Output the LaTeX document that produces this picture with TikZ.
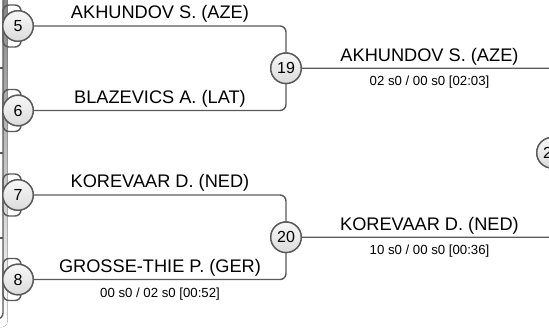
\documentclass[tikz,border=0pt]{standalone}
\usepackage{fontspec}
\setmainfont{Liberation Sans}
\usepackage{xcolor}
\usepackage{tikz}
\definecolor{wire}{HTML}{5A5A5A}
\definecolor{shade}{HTML}{E6E6E6}
\tikzset{
  seed/.style={circle, draw=wire, line width=1.4pt, top color=gray!6,
               bottom color=gray!28, minimum size=30.5pt, inner sep=0pt,
               font=\fontsize{16}{18}\selectfont},
  link/.style={draw=wire, line width=1.4pt, rounded corners=6pt},
  tab/.style={draw=wire, line width=1.4pt, rounded corners=6pt},
  plabel/.style={anchor=base, inner sep=0pt, font=\fontsize{18.2}{20}\selectfont},
  score/.style={anchor=base, inner sep=0pt, font=\fontsize{13.2}{15}\selectfont},
}

\begin{document}
\begin{tikzpicture}[x=1pt, y=-1pt]
    \useasboundingbox (0,0) rectangle (549,329);
    \clip (0,0) rectangle (549,329);
    % previous round panel with its shadow
    \fill[shade, rounded corners=6pt] (-30,-20) rectangle (7.5,327);
    \draw[tab, fill=white] (-30,-20) rectangle (3,319);
    \foreach \y in {68,153,238}
      \draw[draw=wire, line width=1.4pt] (-5,\y) -- (3,\y);
    % seed tabs
    \foreach \y in {26,110.5,195,279.5}
      \draw[tab] (3,\y-21) rectangle (21,\y+21);
    \node[seed] (s5) at (18,26) {5};
    \node[seed] (s6) at (18,110.5) {6};
    \node[seed] (s7) at (18,195) {7};
    \node[seed] (s8) at (18,279.5) {8};
    \node[seed] (m19) at (286,68.25) {19};
    \node[seed] (m20) at (286,237.25) {20};
    \node[seed] (m21) at (552,152.75) {21};
    \draw[link] (s5) -| node[plabel, pos=0.25, yshift=7.5pt] (p5) {AKHUNDOV S. (AZE)} (m19);
    \draw[link] (s6) -| node[plabel, pos=0.25, yshift=7.5pt] (p6) {BLAZEVICS A. (LAT)} (m19);
    \draw[link] (s7) -| node[plabel, pos=0.25, yshift=7.5pt] (p7) {KOREVAAR D. (NED)} (m20);
    \draw[link] (s8) -| node[plabel, pos=0.25, yshift=7.5pt] (p8) {GROSSE-THIE P. (GER)}
                        node[score, pos=0.25, yshift=-18pt] (r8) {00 s0 / 02 s0 [00:52]} (m20);
    \draw[link, rounded corners=3pt] (m19) -| node[plabel, pos=0.255, yshift=6.5pt] (p19) {AKHUNDOV S. (AZE)}
                         node[score, pos=0.255, yshift=-17.5pt] (r19) {02 s0 / 00 s0 [02:03]} (m21);
    \draw[link, rounded corners=3pt] (m20) -| node[plabel, pos=0.255, yshift=6.5pt] (p20) {KOREVAAR D. (NED)}
                         node[score, pos=0.255, yshift=-17.5pt] (r20) {10 s0 / 00 s0 [00:36]} (m21);
    % redraw circles above the links
    \foreach \n/\t in {s5/5,s6/6,s7/7,s8/8,m19/19,m20/20,m21/21}
      \node[seed] at (\n.center) {\t};
\end{tikzpicture}
\end{document}
